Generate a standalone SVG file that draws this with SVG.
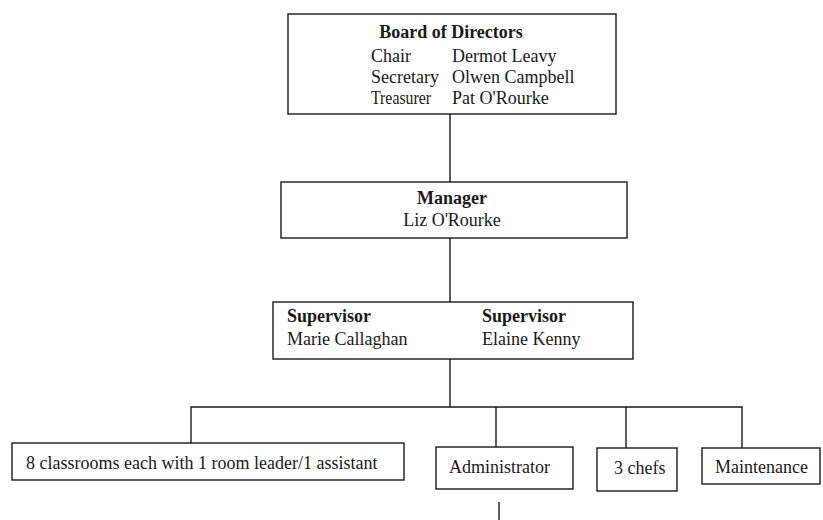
<svg xmlns="http://www.w3.org/2000/svg" width="823" height="520" viewBox="0 0 823 520">
<style>
.box{fill:#fff;stroke:#1a1a1a;stroke-width:1.4}
.ln{stroke:#1a1a1a;stroke-width:1.4;fill:none}
text{font-family:"Liberation Serif","Times New Roman",serif;font-size:18px;fill:#1a1a1a}
.b{font-weight:bold}
.c{text-anchor:middle}
</style>
<rect width="823" height="520" fill="#fff"/>
<g id="connectors">
<path class="ln" d="M450 114V182M450 238V302M450 359V407M191 443V407H742V448M496 407V447M626 407V448M499 502V520"/>
</g>
<g id="board">
<rect class="box" x="288" y="14" width="328" height="100"/>
<text class="b c" x="451" y="38">Board of Directors</text>
<text x="371" y="62">Chair</text><text x="452" y="62">Dermot Leavy</text>
<text x="371" y="83">Secretary</text><text x="452" y="83">Olwen Campbell</text>
<text x="371" y="104" textLength="60" lengthAdjust="spacingAndGlyphs">Treasurer</text><text x="452" y="104">Pat O'Rourke</text>
</g>
<g id="manager">
<rect class="box" x="281" y="182" width="346" height="56"/>
<text class="b c" x="452" y="204">Manager</text>
<text class="c" x="452" y="226">Liz O'Rourke</text>
</g>
<g id="supervisors">
<rect class="box" x="273" y="302" width="360" height="57"/>
<text class="b" x="287" y="322">Supervisor</text>
<text x="287" y="345">Marie Callaghan</text>
<text class="b" x="482" y="322">Supervisor</text>
<text x="482" y="345">Elaine Kenny</text>
</g>
<g id="classrooms">
<rect class="box" x="12" y="443" width="392" height="37"/>
<text x="26" y="469">8 classrooms each with 1 room leader/1 assistant</text>
</g>
<g id="administrator">
<rect class="box" x="436" y="447" width="137" height="42"/>
<text x="449" y="473">Administrator</text>
</g>
<g id="chefs">
<rect class="box" x="597" y="448" width="80" height="43"/>
<text x="614" y="474">3 chefs</text>
</g>
<g id="maintenance">
<rect class="box" x="702" y="448" width="118" height="36"/>
<text x="715" y="473">Maintenance</text>
</g>
</svg>
